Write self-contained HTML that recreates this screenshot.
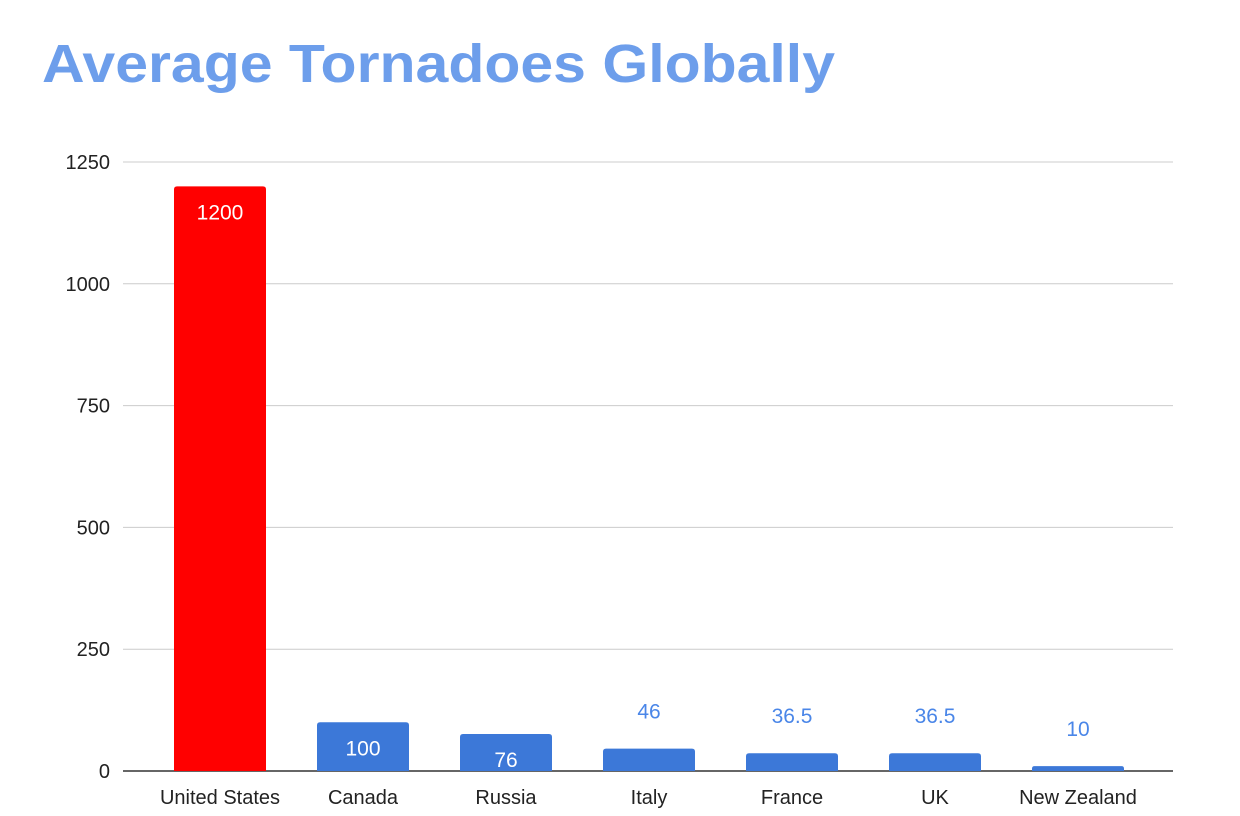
<!DOCTYPE html>
<html><head><meta charset="utf-8"><style>
html,body{margin:0;padding:0;background:#fff;}
svg{display:block;font-family:"Liberation Sans",Arial,sans-serif;}
</style></head><body>
<svg id="chart" width="1240" height="816" viewBox="0 0 1240 816" xmlns="http://www.w3.org/2000/svg">
<text x="42" y="82" font-size="54" font-weight="bold" fill="#6d9eeb" textLength="793" lengthAdjust="spacingAndGlyphs">Average Tornadoes Globally</text>
<g id="grid"></g><g id="bars"></g><g id="labels"></g>
</svg>
<script>
const categories = ["United States","Canada","Russia","Italy","France","UK","New Zealand"];
const values = [1200,100,76,46,36.5,36.5,10];
const valueLabels = ["1200","100","76","46","36.5","36.5","10"];
const barColors = ["#ff0000","#3c78d8","#3c78d8","#3c78d8","#3c78d8","#3c78d8","#3c78d8"];
const yTicks = [0,250,500,750,1000,1250];
const NS="http://www.w3.org/2000/svg";
const y0=771, yTop=162, yMax=1250, left=123, right=1173;
const y = v => y0 - (v / yMax) * (y0 - yTop);
const step = 143, firstCenter = 220, barW = 92;
const x = i => firstCenter + i * step;
function mk(tag, attrs, parent){const e=document.createElementNS(NS,tag);for(const k in attrs)e.setAttribute(k,attrs[k]);parent.appendChild(e);return e;}
const grid=document.getElementById('grid'), bars=document.getElementById('bars'), labels=document.getElementById('labels');
yTicks.forEach(t=>{
  const l=mk('line',{x1:left,x2:right,y1:y(t),y2:y(t),stroke:t===0?'#333':'#ccc','stroke-width':t===0?1.5:1},grid);
  
  
  const tx=mk('text',{x:110,y:y(t)+7,'text-anchor':'end','font-size':20,fill:'#222'},grid);
  tx.textContent=t;
  
  
});
categories.forEach((c,i)=>{
  const top=y(values[i]), h=y0-top;
  const r=Math.min(3,h/2);
  const xl=x(i)-barW/2;
  const p=mk('path',{d:`M${xl},${y0} V${top+r} Q${xl},${top} ${xl+r},${top} H${xl+barW-r} Q${xl+barW},${top} ${xl+barW},${top+r} V${y0} Z`,fill:barColors[i]},bars);
  
  
  const inside = h > 30;
  const vl=mk('text',{x:x(i),y:inside?top+33:top-30,'text-anchor':'middle','font-size':21,fill:inside?'#fff':'#4a86e8'},labels);
  vl.textContent=valueLabels[i];
  
  
  const cl=mk('text',{x:x(i),y:804,'text-anchor':'middle','font-size':20,fill:'#222'},labels);
  cl.textContent=c;
  
  
});
</script>
</body></html>
